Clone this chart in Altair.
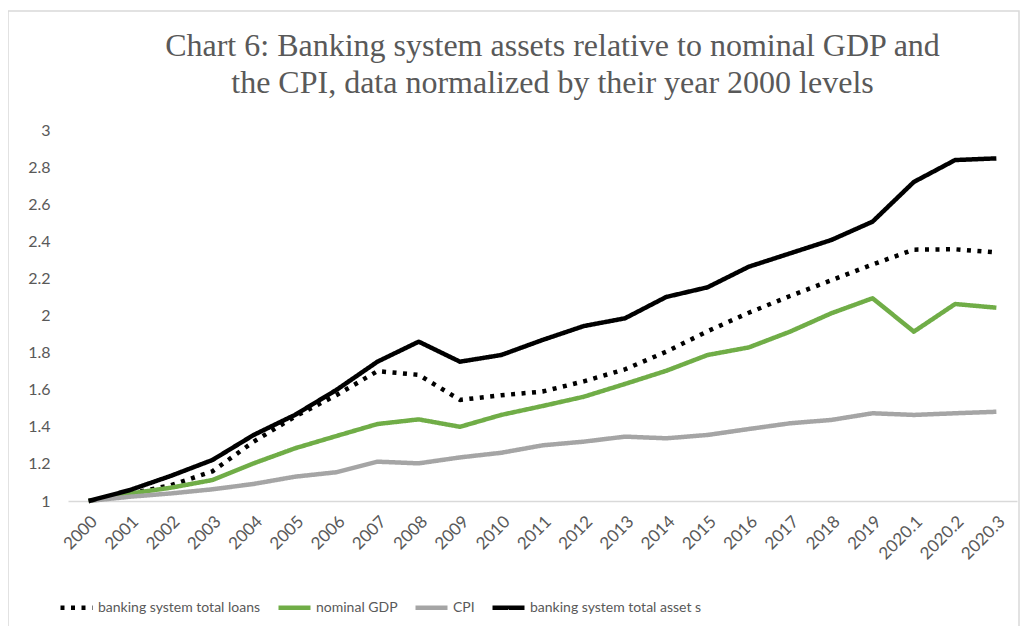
import altair as alt
import pandas as pd

periods = ["2000", "2001", "2002", "2003", "2004", "2005", "2006", "2007", "2008", "2009",
           "2010", "2011", "2012", "2013", "2014", "2015", "2016", "2017", "2018", "2019",
           "2020.1", "2020.2", "2020.3"]

total_loans = [1.0, 1.04, 1.085, 1.16, 1.32, 1.455, 1.57, 1.70, 1.68, 1.545,
               1.57, 1.59, 1.645, 1.71, 1.805, 1.915, 2.015, 2.105, 2.19, 2.275,
               2.355, 2.357, 2.34]
nominal_gdp = [1.0, 1.04, 1.072, 1.113, 1.203, 1.284, 1.35, 1.415, 1.44, 1.40,
               1.464, 1.512, 1.562, 1.631, 1.702, 1.787, 1.828, 1.913, 2.012, 2.093,
               1.913, 2.062, 2.042]
cpi = [1.0, 1.023, 1.041, 1.063, 1.092, 1.131, 1.155, 1.212, 1.203, 1.235,
       1.26, 1.30, 1.32, 1.347, 1.338, 1.356, 1.388, 1.419, 1.437, 1.473,
       1.464, 1.473, 1.481]
total_assets = [1.0, 1.059, 1.136, 1.221, 1.356, 1.464, 1.598, 1.751, 1.859, 1.751,
                1.787, 1.868, 1.943, 1.985, 2.10, 2.152, 2.263, 2.335, 2.407, 2.506,
                2.72, 2.838, 2.847]

series_names = ["banking system total loans", "nominal GDP", "CPI", "banking system total asset s"]
series_values = [total_loans, nominal_gdp, cpi, total_assets]
series_colors = ["#000000", "#70AD47", "#A5A5A5", "#000000"]
series_dash = [[4, 6.5], [1, 0], [1, 0], [1, 0]]
y_ticks = [1, 1.2, 1.4, 1.6, 1.8, 2, 2.2, 2.4, 2.6, 2.8, 3]

rows = []
for name, vals in zip(series_names, series_values):
    for p, v in zip(periods, vals):
        rows.append({"period": p, "value": v, "series": name})
df = pd.DataFrame(rows)

text_color = "#595959"

lines = alt.Chart(df).mark_line(strokeWidth=4.5, strokeJoin="round").encode(
    x=alt.X("period:N", sort=periods,
            scale=alt.Scale(type="point", padding=0.5),
            axis=alt.Axis(title=None, labelAngle=-45, ticks=False, domainColor="#D9D9D9",
                          domainWidth=1.5, labelColor=text_color, labelFont="Lato",
                          labelFontSize=17, labelPadding=12, grid=False)),
    y=alt.Y("value:Q",
            scale=alt.Scale(domain=[1, 3], nice=False, zero=False),
            axis=alt.Axis(title=None, values=y_ticks, format=".1~f",
                          domain=False, ticks=False, grid=False, labelColor=text_color,
                          labelFont="Lato", labelFontSize=16, labelPadding=18)),
    color=alt.Color("series:N", sort=series_names,
                    scale=alt.Scale(domain=series_names, range=series_colors),
                    legend=alt.Legend(title=None, orient="none", direction="horizontal",
                                      legendX=-10, legendY=459, labelLimit=400,
                                      symbolType="stroke", symbolSize=1024, symbolStrokeWidth=4.5,
                                      labelFont="Lato", labelFontSize=14,
                                      labelColor=text_color, labelOffset=3, columnPadding=8)),
    strokeDash=alt.StrokeDash("series:N", sort=series_names,
                              scale=alt.Scale(domain=series_names, range=series_dash),
                              legend=None),
)

frame = alt.Chart(pd.DataFrame({"k": [0]})).mark_rect(
    fill=None, stroke="#D9D9D9", strokeWidth=1.5
).encode(x=alt.value(-60), x2=alt.value(951), y=alt.value(-119), y2=alt.value(499))

chart = alt.layer(frame, lines).properties(
    width=949, height=371,
    autosize=alt.AutoSizeParams(type="none"),
    padding={"left": 60, "top": 122, "right": 4, "bottom": 125},
    title=alt.TitleParams(
        text=["Chart 6: Banking system assets relative to nominal GDP and",
              "the CPI, data normalized by their year 2000 levels"],
        font="Liberation Serif", fontSize=32, fontWeight="normal", color=text_color,
        anchor="middle", offset=-90, lineHeight=37, dx=10),
).configure_view(stroke=None)

chart.save("out.html", embed_options={"renderer": "svg", "actions": False})
